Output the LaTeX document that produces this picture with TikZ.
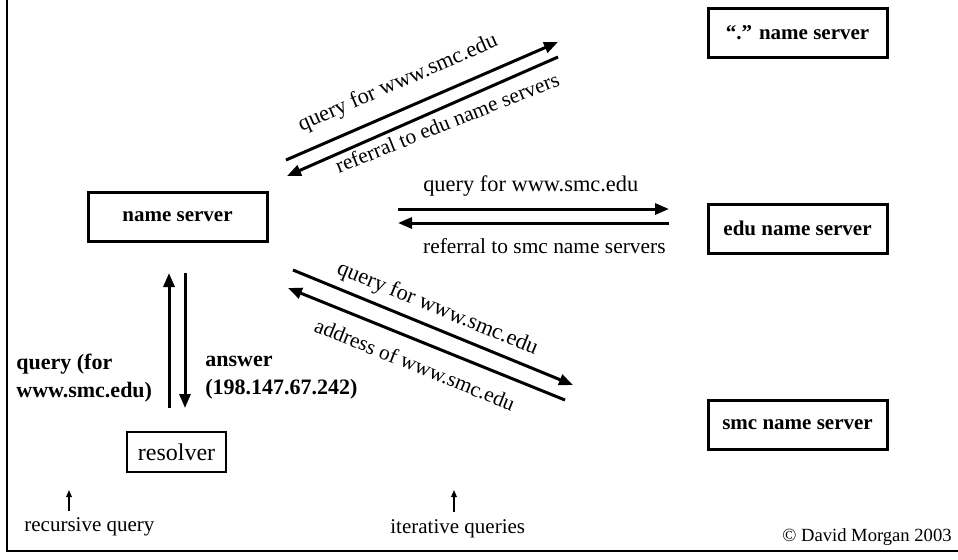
\documentclass[tikz,border=0pt]{standalone}
\usepackage{fontspec}
\setmainfont{Liberation Serif}
\usetikzlibrary{arrows.meta}

\begin{document}
\begin{tikzpicture}[x=0.5pt,y=-0.5pt,>={Triangle[length=7pt,width=5.5pt]},sloped,
    server/.style={draw,line width=1.5pt,minimum width=89.5pt,minimum height=24.5pt,inner sep=0pt,
                   font=\fontsize{10.5}{12}\bfseries\selectfont},
    msg/.style={->,line width=1.5pt},
    lbl/.style={font=\fontsize{11.2}{13}\selectfont},
    small lbl/.style={font=\fontsize{10.7}{13}\selectfont},
    hint/.style={-{Triangle[length=3.5pt,width=2.8pt]},line width=0.7pt},
    note/.style={font=\fontsize{10.5}{12}\selectfont,inner sep=0pt,anchor=west},
    bold note/.style={font=\fontsize{11}{14}\bfseries\selectfont,inner sep=0pt,anchor=west,align=left}]
\useasboundingbox (0,0) rectangle (958,559);
\draw[line width=1pt] (7,0) -- (7,551) -- (958,551);
% servers
\node[server] (root) at (797.5,32.5) {``.'' name server};
\node[server] (edu) at (797.5,228.5) {edu name server};
\node[server] (smc) at (797.5,425) {smc name server};
\node[server] (ns) at (177.5,216.5) {name server};
\node[draw,line width=0.6pt,minimum width=49.5pt,minimum height=20pt,
      font=\fontsize{12}{14}\selectfont] (res) at (176.5,452) {resolver};
% arrow ends
\coordinate (q1a) at (286,160); \coordinate (q1b) at (558,42);
\coordinate (r1a) at (558,57);  \coordinate (r1b) at (287,176);
\coordinate (q2a) at (398,209); \coordinate (q2b) at (669,209);
\coordinate (r2a) at (669,223); \coordinate (r2b) at (398,223);
\coordinate (q3a) at (293,270); \coordinate (q3b) at (573,385);
\coordinate (a3a) at (565,400); \coordinate (a3b) at (288,288);
\coordinate (upa) at (169,408); \coordinate (upb) at (169,273);
\coordinate (dna) at (185,273); \coordinate (dnb) at (185,408);
\coordinate (rqa) at (69,511);  \coordinate (rqb) at (69,490);
\coordinate (iqa) at (454,512); \coordinate (iqb) at (454,490);
% iterative
\draw[msg] (q1a) -- (q1b) node [lbl,inner sep=7pt,pos=0.45,above] {query for www.smc.edu};
\draw[msg] (r1a) -- (r1b) node [small lbl,inner sep=3pt,rotate=-2,pos=0.43,below] {referral to edu name servers};
\draw[msg] (q2a) -- (q2b) node [lbl,inner sep=5.5pt,pos=0.49,above] {query for www.smc.edu};
\draw[msg] (r2a) -- (r2b) node [small lbl,inner sep=7pt,pos=0.46,below] {referral to smc name servers};
\draw[msg] (q3a) -- (q3b) node [lbl,inner sep=3.5pt,pos=0.49,above] {query for www.smc.edu};
\draw[msg] (a3a) -- (a3b) node [small lbl,inner sep=7pt,pos=0.51,below] {address of www.smc.edu};
% recursive
\draw[msg] (upa) -- (upb);
\draw[msg] (dna) -- (dnb);
\node[bold note] (qtxt) at (16,378) {query (for\\www.smc.edu)};
\node[bold note] (atxt) at (205,378) {answer\\(198.147.67.242)};
% legend
\draw[hint] (rqa) -- (rqb);
\draw[hint] (iqa) -- (iqb);
\node[note] (rtxt) at (24,527) {recursive query};
\node[note] (itxt) at (390,529) {iterative queries};
\node[font=\fontsize{9.3}{11}\selectfont,inner sep=0pt,anchor=east] (copy) at (952,537) {\textcopyright{} David Morgan 2003};
\end{tikzpicture}
\end{document}
